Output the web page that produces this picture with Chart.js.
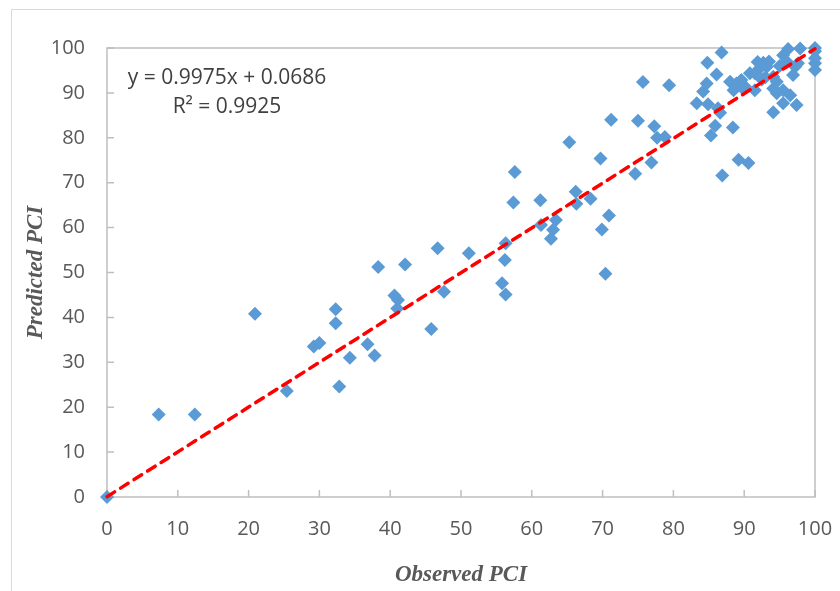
<!DOCTYPE html>
<html>
<head>
<meta charset="utf-8">
<script src="https://cdn.jsdelivr.net/npm/chart.js@4"></script>
<style>
  html, body { margin: 0; padding: 0; background: #fff; }
  #wrap { width: 840px; height: 591px; position: relative; }
</style>
</head>
<body>
<div id="wrap"><canvas id="chart" width="840" height="591"></canvas></div>
<script>
// ---- data ----
const observed = [
  0, 7.3, 12.4, 20.9, 25.4, 29.2, 30.0, 32.3, 32.3, 32.8,
  34.3, 36.8, 37.8, 38.3, 40.6, 41.1, 41.0, 42.1, 45.8, 46.7,
  47.6, 51.1, 55.8, 56.2, 56.3, 56.3, 57.4, 57.6, 61.2, 61.3,
  62.7, 63.0, 63.4, 65.3, 66.2, 66.3, 68.3, 69.7, 69.9, 70.4,
  70.9, 71.2, 74.6, 75.0, 75.7, 76.9, 77.3, 77.7, 78.8, 79.4,
  83.3, 84.2, 84.7, 84.8, 84.9, 85.3, 85.9, 86.1, 86.3, 86.6,
  86.8, 86.9, 88.0, 88.4, 88.5, 88.9, 89.2, 89.4, 89.6, 89.8,
  90.1, 90.6, 90.8, 91.5, 91.5, 91.9, 92.2, 92.7, 93.2, 93.0,
  94.1, 94.6, 94.1, 94.6, 94.1, 95.5, 96.5, 95.5, 97.4, 95.5,
  96.2, 97.9, 97.2, 97.6, 96.9, 95.0, 96.0, 100, 100, 100,
  100, 100, 93.5, 92.5
];
const predicted = [
  0, 18.4, 18.4, 40.8, 23.6, 33.5, 34.3, 41.8, 38.7, 24.6,
  31.0, 34.0, 31.5, 51.2, 44.9, 43.9, 42.0, 51.8, 37.4, 55.4,
  45.7, 54.3, 47.6, 52.8, 45.1, 56.5, 65.6, 72.4, 66.1, 60.6,
  57.5, 59.5, 61.7, 79.0, 68.0, 65.3, 66.4, 75.4, 59.6, 49.7,
  62.7, 84.0, 72.0, 83.8, 92.4, 74.5, 82.6, 80.0, 80.2, 91.7,
  87.7, 90.3, 92.1, 96.7, 87.5, 80.5, 82.7, 94.1, 86.6, 85.6,
  99.0, 71.6, 92.5, 82.3, 90.6, 92.1, 75.1, 92.5, 92.9, 91.0,
  91.4, 74.4, 94.4, 94.4, 90.6, 96.9, 95.5, 96.7, 95.8, 93.5,
  93.6, 92.5, 91.0, 89.9, 85.7, 90.6, 89.5, 87.7, 87.3, 98.4,
  99.8, 99.9, 95.8, 96.6, 94.0, 96.0, 97.0, 100, 99.3, 97.7,
  96.6, 95.1, 97.0, 93.0
];
// linear trendline end points (y = 0.9975x + 0.0686)
const trendX = [0, 100];
const trendY = [0.07, 99.82];
const axisTicks = [0, 10, 20, 30, 40, 50, 60, 70, 80, 90, 100];
const equationLines = ['y = 0.9975x + 0.0686', 'R\u00B2 = 0.9925'];

const BLUE = '#5b9bd5';
const RED = '#ff0000';
const AXIS_GRAY = '#bfbfbf';
const TEXT_GRAY = '#595959';

const points = observed.map((x, i) => ({ x, y: predicted[i] }));
const trend = trendX.map((x, i) => ({ x, y: trendY[i] }));

// plot frame, inward tick marks, outer chart border, equation label
const framePlugin = {
  id: 'frame',
  beforeDraw(chart) {
    const c = chart.ctx;
    c.save();
    c.strokeStyle = '#d9d9d9';
    c.lineWidth = 1;
    c.strokeRect(11.5, 9.5, 900, 700);
    c.restore();
  },
  beforeDatasetsDraw(chart) {
    const { ctx: c, chartArea: a, scales } = chart;
    c.save();
    c.strokeStyle = AXIS_GRAY;
    c.lineWidth = 1.5;
    c.strokeRect(a.left, a.top, a.right - a.left, a.bottom - a.top);
    c.beginPath();
    axisTicks.forEach(v => {
      const px = scales.x.getPixelForValue(v);
      c.moveTo(px, a.bottom); c.lineTo(px, a.bottom - 7);
      const py = scales.y.getPixelForValue(v);
      c.moveTo(a.left, py); c.lineTo(a.left + 7, py);
    });
    c.stroke();

    c.fillStyle = '#404040';
    c.font = "21px 'Open Sans'";
    c.textAlign = 'center';
    c.textBaseline = 'middle';
    c.fillText(equationLines[0], a.left + 120, a.top + 30);
    c.fillText(equationLines[1], a.left + 120, a.top + 59);
    c.restore();
  }
};

const fixPad = s => { s.paddingLeft = 0; s.paddingRight = 0; s.paddingTop = 0; s.paddingBottom = 0; };

new Chart(document.getElementById('chart'), {
  type: 'scatter',
  data: {
    datasets: [
      {
        type: 'line',
        label: 'Linear',
        data: trend,
        borderColor: RED,
        borderWidth: 3.5,
        borderDash: [9, 7],
        borderCapStyle: 'round',
        pointRadius: 0,
        fill: false,
        clip: false
      },
      {
        label: 'PCI',
        data: points,
        pointStyle: 'rectRot',
        pointRadius: 7,
        pointBackgroundColor: BLUE,
        pointBorderColor: BLUE,
        pointBorderWidth: 0,
        clip: false
      }
    ]
  },
  options: {
    responsive: false,
    animation: false,
    layout: { padding: { left: 0, top: 48, right: 25, bottom: 0 } },
    plugins: { legend: { display: false }, tooltip: { enabled: false } },
    scales: {
      x: {
        type: 'linear', min: 0, max: 100,
        afterBuildTicks: s => { s.ticks = axisTicks.map(v => ({ value: v })); },
        afterFit: s => { s.height = 94; fixPad(s); },
        grid: { display: false, drawTicks: false },
        border: { display: false },
        ticks: { color: TEXT_GRAY, padding: 20, font: { family: 'Open Sans', size: 20 } },
        title: {
          display: true, text: 'Observed PCI', color: TEXT_GRAY, padding: { top: 4, bottom: 2 },
          font: { family: 'Liberation Serif', size: 23, style: 'italic', weight: 'bold' }
        }
      },
      y: {
        type: 'linear', min: 0, max: 100,
        afterBuildTicks: s => { s.ticks = axisTicks.map(v => ({ value: v })); },
        afterFit: s => { s.width = 107; fixPad(s); },
        grid: { display: false, drawTicks: false },
        border: { display: false },
        ticks: { color: TEXT_GRAY, padding: 22, font: { family: 'Open Sans', size: 20 } },
        title: {
          display: true, text: 'Predicted PCI', color: TEXT_GRAY, padding: { top: 22, bottom: 0 },
          font: { family: 'Liberation Serif', size: 23, style: 'italic', weight: 'bold' }
        }
      }
    }
  },
  plugins: [framePlugin]
});
</script>
</body>
</html>
